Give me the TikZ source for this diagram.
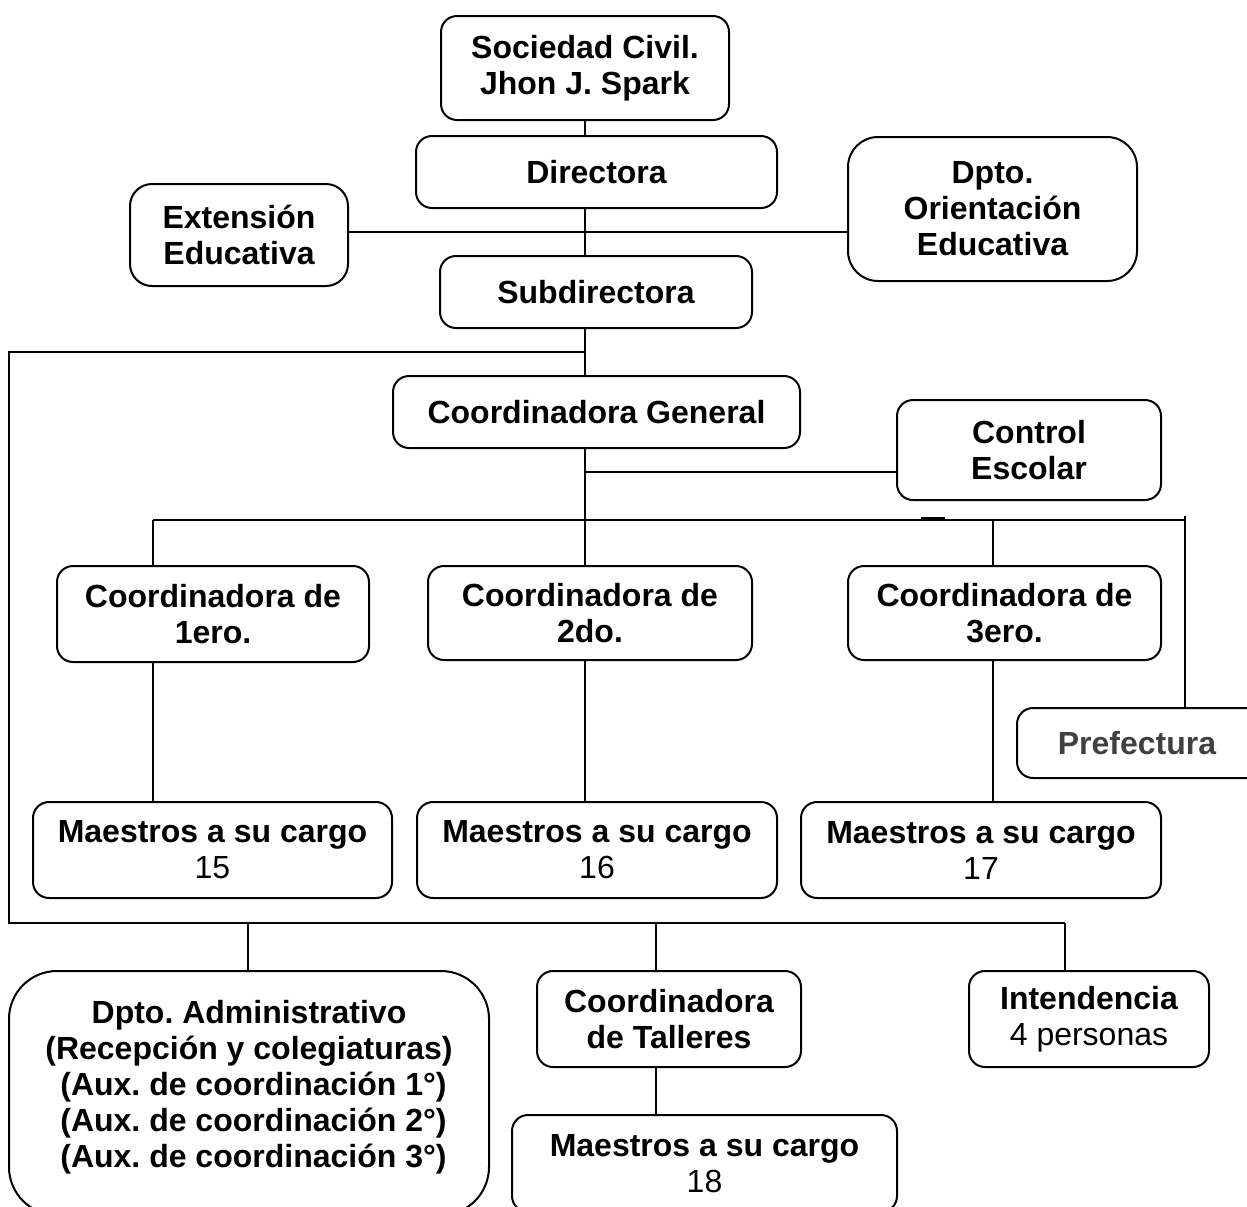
\documentclass[tikz,border=0pt]{standalone}
\usepackage{fontspec}
\setmainfont{Liberation Sans}
\frenchspacing
\begin{document}
\begin{tikzpicture}[x=0.5pt,y=-0.5pt,
  box/.style={draw,line width=1pt,rounded corners=8pt,inner sep=0pt,align=center,
    font=\bfseries\fontsize{16}{18}\selectfont\frenchspacing},
  conn/.style={line width=0.9pt}]
\newcommand\obox[7][]{\node[box,#1,minimum width={(#5-#3)*0.5pt},minimum height={(#6-#4)*0.5pt}] (#2) at ({(#3+#5)/2},{(#4+#6)/2}) {#7};}
\useasboundingbox (0,0) rectangle (1247,1206);
% boxes
\obox{soc}{441}{16}{729}{120}{Sociedad Civil.\\Jhon J. Spark}
\obox{dir}{416}{136}{777}{208}{Directora}
\obox[rounded corners=11pt]{ext}{130}{184}{348}{286}{Extensión\\Educativa}
\obox[rounded corners=15pt]{ori}{848}{137}{1137}{281}{Dpto.\\Orientación\\Educativa}
\obox{sub}{440}{256}{752}{328}{Subdirectora}
\obox{cg}{393}{376}{800}{448}{Coordinadora General}
\obox{ce}{897}{400}{1161}{500}{Control\\Escolar}
\obox{c1}{57}{566}{369}{662}{Coordinadora de\\1ero.}
\obox{c2}{428}{566}{752}{660}{Coordinadora de\\2do.}
\obox{c3}{848}{566}{1161}{660}{Coordinadora de\\3ero.}
\obox[text=black!75]{pre}{1017}{708}{1275}{778}{\hspace*{-9pt}Prefectura}
\obox{m1}{33}{802}{392}{898}{Maestros a su cargo\\{\mdseries 15}}
\obox{m2}{417}{802}{777}{898}{Maestros a su cargo\\{\mdseries 16}}
\obox{m3}{801}{802}{1161}{898}{Maestros a su cargo\\{\mdseries 17}}
\obox[rounded corners=24pt]{adm}{9}{971}{489}{1215}{Dpto. Administrativo\\(Recepción y colegiaturas)\\\hspace*{0.28em}(Aux. de coordinación 1°)\\\hspace*{0.28em}(Aux. de coordinación 2°)\\\hspace*{0.28em}(Aux. de coordinación 3°)\rule[-9pt]{0pt}{0pt}}
\obox{tal}{537}{971}{801}{1067}{Coordinadora\\de Talleres}
\obox{int}{969}{971}{1209}{1067}{Intendencia\\{\mdseries 4 personas}}
\obox{m4}{512}{1115}{897}{1212}{Maestros a su cargo\\{\mdseries 18}}
% junctions
\coordinate (jA) at (585,232);
\coordinate (jB) at (585,352);
\coordinate (jL) at (9,352);
\coordinate (jLB) at (9,923);
\coordinate (jC) at (585,472);
\coordinate (jD) at (585,520);
\coordinate (jE) at (153,520);
\coordinate (jF) at (1185,520);
\coordinate (jG) at (993,520);
\coordinate (jH) at (248,923);
\coordinate (jI) at (656,923);
\coordinate (jJ) at (1065,923);
% connectors
\draw[conn] (soc.south) -- (soc.south |- dir.north);
\draw[conn] (soc.south |- dir.south) -- (soc.south |- sub.north);
\draw[conn] (ext.east |- jA) -- (ori.west |- jA);
\draw[conn] (soc.south |- sub.south) -- (soc.south |- cg.north);
\draw[conn] (jB) -- (jL) -- (jLB) -- (jJ);
\draw[conn] (soc.south |- cg.south) -- (soc.south |- c2.north);
\draw[conn] (jC) -- (ce.west |- jC);
\draw[conn] (jE) -- (jF);
\draw[conn] (jE) -- (jE |- c1.north);
\draw[conn] (jG) -- (jG |- c3.north);
\draw[conn] (1185,516) -- (jF) -- (jF |- pre.north);
\draw[line width=2pt] (921,519) -- (945,519);
\draw[conn] (jE |- c1.south) -- (jE |- m1.north);
\draw[conn] (soc.south |- c2.south) -- (soc.south |- m2.north);
\draw[conn] (jG |- c3.south) -- (jG |- m3.north);
\draw[conn] (jH) -- (jH |- adm.north);
\draw[conn] (jI) -- (jI |- tal.north);
\draw[conn] (jJ) -- (jJ |- int.north);
\draw[conn] (jI |- tal.south) -- (jI |- m4.north);
\end{tikzpicture}
\end{document}
